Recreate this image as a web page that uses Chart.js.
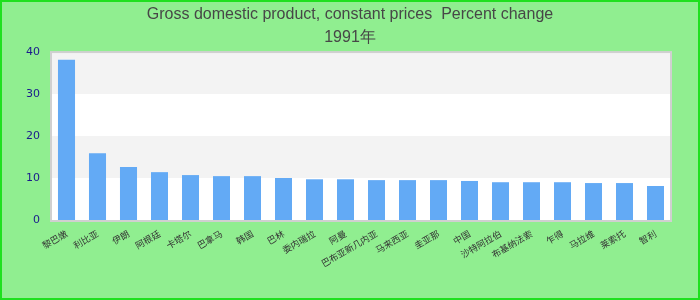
<!DOCTYPE html>
<html>
<head>
<meta charset="utf-8">
<script src="https://cdn.jsdelivr.net/npm/chart.js@4/dist/chart.umd.min.js"></script>
<style>
  html, body { margin: 0; padding: 0; background: #90EE90; }
  #wrap { width: 700px; height: 300px; position: relative; }
</style>
</head>
<body>
<div id="wrap"><canvas id="c"></canvas></div>
<script>
const titleLines = ['Gross domestic product, constant prices  Percent change', '1991年'];
const categories = ['黎巴嫩', '利比亚', '伊朗', '阿根廷', '卡塔尔', '巴拿马', '韩国', '巴林', '委内瑞拉', '阿曼',
  '巴布亚新几内亚', '马来西亚', '圭亚那', '中国', '沙特阿拉伯', '布基纳法索', '乍得', '马拉维', '莱索托', '智利'];
const values = [38.2, 15.9, 12.6, 11.4, 10.7, 10.45, 10.45, 10.0, 9.7, 9.7,
  9.5, 9.5, 9.5, 9.3, 9.0, 9.0, 9.0, 8.8, 8.8, 8.1];
const yTicks = [0, 10, 20, 30, 40];
const bands = [[10, 20], [30, 40]];

const decor = {
  id: 'decor',
  beforeDraw(chart) {
    const { ctx, chartArea: a, scales: { y } } = chart;
    ctx.save();
    ctx.fillStyle = '#90EE90';
    ctx.fillRect(0, 0, chart.width, chart.height);
    ctx.strokeStyle = '#1fe01f';
    ctx.lineWidth = 2;
    ctx.strokeRect(1, 1, chart.width - 2, chart.height - 2);
    ctx.fillStyle = '#ffffff';
    ctx.fillRect(a.left, a.top, a.right - a.left, a.bottom - a.top);
    ctx.fillStyle = '#f3f3f3';
    bands.forEach(([lo, hi]) => {
      const y1 = y.getPixelForValue(hi), y2 = y.getPixelForValue(lo);
      ctx.fillRect(a.left, y1, a.right - a.left, y2 - y1);
    });
    ctx.restore();
  },
  afterDraw(chart) {
    const { ctx, chartArea: a } = chart;
    ctx.save();
    ctx.strokeStyle = '#d0d0d0';
    ctx.lineWidth = 2;
    ctx.strokeRect(a.left, a.top, a.right - a.left, a.bottom - a.top + 1);
    ctx.restore();
  }
};

new Chart(document.getElementById('c'), {
  type: 'bar',
  data: {
    labels: categories,
    datasets: [{
      data: values,
      backgroundColor: '#63aaf5',
      barPercentage: 0.55,
      categoryPercentage: 1.0
    }]
  },
  options: {
    responsive: true,
    maintainAspectRatio: false,
    animation: false,
    layout: { padding: { left: 0, right: 0, top: 1, bottom: 0 } },
    plugins: {
      legend: { display: false },
      tooltip: { enabled: false },
      title: {
        display: true,
        text: titleLines,
        color: '#474747',
        font: { family: '"Liberation Sans", Arial, sans-serif', size: 16, weight: 'normal', lineHeight: 1.44 },
        padding: { top: 2, bottom: 3 }
      }
    },
    scales: {
      x: {
        grid: { display: false, drawTicks: false },
        border: { display: false },
        ticks: {
          autoSkip: false,
          minRotation: 30,
          maxRotation: 30,
          padding: 8,
          color: '#333333',
          font: { family: '"Noto Sans CJK SC", sans-serif', size: 9 }
        },
        afterFit(s) { s.height = 80; }
      },
      y: {
        min: 0,
        max: 40,
        afterBuildTicks(s) { s.ticks = yTicks.map(v => ({ value: v })); },
        grid: { display: false, drawTicks: false },
        border: { display: false },
        ticks: {
          padding: 11,
          color: '#1a1a8c',
          font: { family: '"DejaVu Sans", sans-serif', size: 11 }
        },
        afterFit(s) { s.width = 51; }
      },
      yRight: {
        position: 'right',
        display: true,
        min: 0,
        max: 40,
        grid: { display: false, drawTicks: false },
        border: { display: false },
        ticks: { display: false },
        afterFit(s) { s.width = 29; }
      }
    }
  },
  plugins: [decor]
});
</script>
</body>
</html>
